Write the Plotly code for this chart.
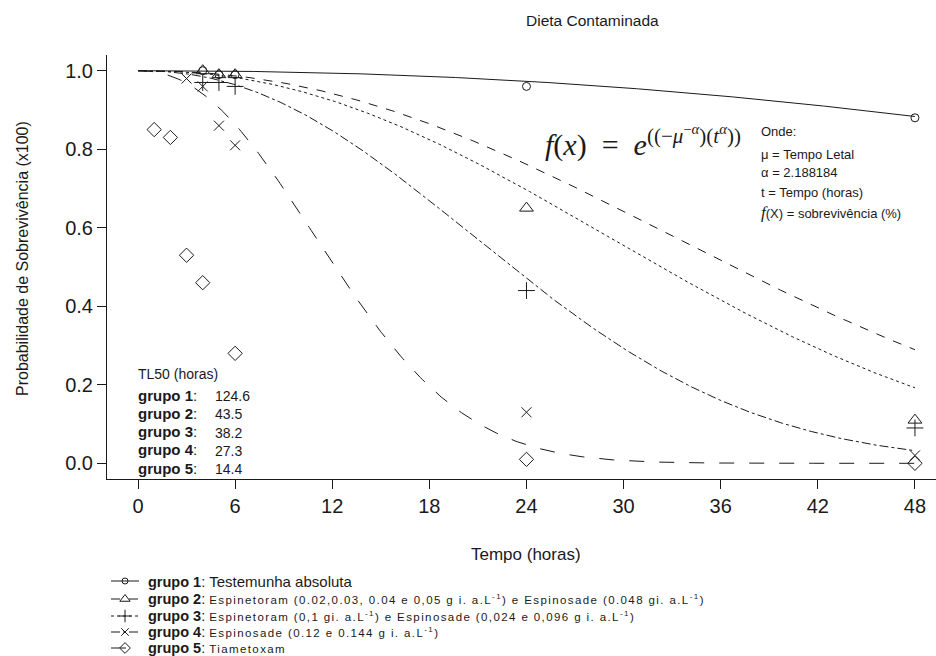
import numpy as np
import plotly.graph_objects as go

# Observed survival (fraction) per group and time (hours)
t_g1 = [4, 5, 6, 24, 48]
s_g1 = [1.0, 0.99, 0.99, 0.96, 0.88]
t_g2 = [4, 5, 6, 24, 48]
s_g2 = [1.0, 0.99, 0.99, 0.65, 0.11]
t_g3 = [4, 5, 6, 24, 48]
s_g3 = [0.97, 0.97, 0.96, 0.44, 0.09]
t_g4 = [3, 4, 5, 6, 24, 48]
s_g4 = [0.98, 0.96, 0.86, 0.81, 0.13, 0.02]
t_g5 = [1, 2, 3, 4, 6, 24, 48]
s_g5 = [0.85, 0.83, 0.53, 0.46, 0.28, 0.01, 0.0]

# Weibull fit: lethal time per group and shared shape
tl50 = [124.6, 43.5, 38.2, 27.3, 14.4]
alpha = 2.188184

x_ticks = [0, 6, 12, 18, 24, 30, 36, 42, 48]
y_ticks = [0.0, 0.2, 0.4, 0.6, 0.8, 1.0]

group_names = ["grupo 1", "grupo 2", "grupo 3", "grupo 4", "grupo 5"]
group_desc = [
    "Testemunha absoluta",
    "Espinetoram (0.02,0.03, 0.04 e 0,05 g i. a.L<sup>-1</sup>) e Espinosade (0.048 gi. a.L<sup>-1</sup>)",
    "Espinetoram (0,1 gi. a.L<sup>-1</sup>) e Espinosade (0,024 e 0,096 g i. a.L<sup>-1</sup>)",
    "Espinosade (0.12 e 0.144 g i. a.L<sup>-1</sup>)",
    "Tiametoxam",
]

W, H = 936, 656
FONT = "Liberation Sans, Arial, sans-serif"
INK = "#1a1a1a"

times = [t_g1, t_g2, t_g3, t_g4, t_g5]
survs = [s_g1, s_g2, s_g3, s_g4, s_g5]
dashes = ["solid", "dash", "dot", "dashdot", "longdash"]
symbols = ["circle-open", "triangle-up-open", "cross-thin-open", "x-thin-open", "diamond-open"]
msizes = [8, 12, 12, 10, 11]


def px(x):
    return x / W


def py(y):
    return 1 - y / H


fig = go.Figure()

t_curve = np.linspace(0, 48, 400)
for mu, dash in zip(tl50, dashes):
    fig.add_trace(go.Scatter(
        x=t_curve, y=np.exp(-(t_curve / mu) ** alpha), mode="lines",
        line=dict(color=INK, width=1, dash=dash), hoverinfo="skip", showlegend=False,
    ))

for t, s, sym, ms in zip(times, survs, symbols, msizes):
    fig.add_trace(go.Scatter(
        x=t, y=s, mode="markers", cliponaxis=False, showlegend=False,
        marker=dict(symbol=sym, size=ms, color=INK, line=dict(color=INK, width=1)),
    ))

# Key below the plot, drawn on its own pixel-scaled axes
row_y = [581, 599, 616, 632, 648]
for yy, dash, sym, ms in zip(row_y, dashes, symbols, msizes):
    fig.add_trace(go.Scatter(
        x=[111, 139], y=[yy, yy], mode="lines", xaxis="x2", yaxis="y2",
        line=dict(color=INK, width=1, dash=dash), showlegend=False, hoverinfo="skip",
    ))
    fig.add_trace(go.Scatter(
        x=[125], y=[yy], mode="markers", xaxis="x2", yaxis="y2", cliponaxis=False,
        marker=dict(symbol=sym, size=ms * 0.75, color=INK, line=dict(color=INK, width=1)),
        showlegend=False, hoverinfo="skip",
    ))

annotations = []
for i, (yy, name, desc) in enumerate(zip(row_y, group_names, group_desc)):
    if i == 0:
        style = "font-size:15px"
    else:
        style = "font-size:11.5px;letter-spacing:1.4px"
    annotations.append(dict(
        x=px(146), y=py(yy), xref="paper", yref="paper", xanchor="left", yanchor="middle",
        text=f"<b>{name}</b>: <span style='{style}'>{desc}</span>",
        showarrow=False, font=dict(family=FONT, size=14.5, color=INK),
    ))

# TL50 block
annotations.append(dict(
    x=px(136), y=py(374), xref="paper", yref="paper", xanchor="left", yanchor="middle",
    text="TL50 (horas)", showarrow=False, font=dict(family=FONT, size=14, color=INK)))
for i, (name, val) in enumerate(zip(group_names, tl50)):
    yy = 395 + i * 18.3
    annotations.append(dict(
        x=px(136), y=py(yy), xref="paper", yref="paper", xanchor="left", yanchor="middle",
        text=f"<b>{name}</b>:", showarrow=False, font=dict(family=FONT, size=15, color=INK)))
    annotations.append(dict(
        x=px(213), y=py(yy + 1), xref="paper", yref="paper", xanchor="left", yanchor="middle",
        text=f"{val}", showarrow=False, font=dict(family=FONT, size=14, color=INK)))

# Model equation and notes
annotations.append(dict(
    x=px(543), y=py(141), xref="paper", yref="paper", xanchor="left", yanchor="middle",
    text="<i>f</i>(<i>x</i>)  =  <i>e</i><sup>((−<i>μ</i><sup>−<i>α</i></sup>)(<i>t</i><sup><i>α</i></sup>))</sup>",
    showarrow=False, font=dict(family="Liberation Serif, DejaVu Serif, serif", size=30, color=INK)))
notes = [
    ("Onde:", 131),
    ("μ = Tempo Letal", 154),
    (f"α = {alpha}", 173),
    ("t = Tempo (horas)", 192),
    ("<span style='font-family:Liberation Serif;font-style:italic;font-size:17px'>f</span>(X) = sobrevivência (%)", 212),
]
for txt, yy in notes:
    annotations.append(dict(
        x=px(759), y=py(yy), xref="paper", yref="paper", xanchor="left", yanchor="middle",
        text=txt, showarrow=False, font=dict(family=FONT, size=13, color=INK)))

annotations.append(dict(
    x=px(592), y=py(21), xref="paper", yref="paper", xanchor="center", yanchor="middle",
    text="Dieta Contaminada", showarrow=False, font=dict(family=FONT, size=15.5, color=INK)))
annotations.append(dict(
    x=px(526), y=py(554), xref="paper", yref="paper", xanchor="center", yanchor="middle",
    text="Tempo (horas)", showarrow=False, font=dict(family=FONT, size=17, color=INK)))
annotations.append(dict(
    x=px(22), y=py(259), xref="paper", yref="paper", xanchor="center", yanchor="middle",
    text="Probabilidade de Sobrevivência (x100)", textangle=-90, showarrow=False,
    font=dict(family=FONT, size=16, color=INK)))

# Plot region in pixels: x 107..936, y 55..479
fig.update_layout(
    width=W, height=H, autosize=False,
    margin=dict(l=0, r=0, t=0, b=0),
    paper_bgcolor="white", plot_bgcolor="rgba(0,0,0,0)",
    showlegend=False,
    annotations=annotations,
    xaxis=dict(
        domain=[107 / W, 1.0], range=[-1.915, 49.30], tickvals=x_ticks,
        showline=True, linecolor=INK, linewidth=1, showgrid=False, zeroline=False,
        ticks="outside", ticklen=9, tickcolor=INK, tickwidth=1,
        tickfont=dict(family=FONT, size=20, color=INK),
    ),
    yaxis=dict(
        domain=[(H - 479) / H, (H - 55) / H], range=[-0.04, 1.04], tickvals=y_ticks,
        tickformat=".1f",
        showline=True, linecolor=INK, linewidth=1, showgrid=False, zeroline=False,
        ticks="outside", ticklen=9, tickcolor=INK, tickwidth=1,
        tickfont=dict(family=FONT, size=20, color=INK),
    ),
    xaxis2=dict(domain=[0, 1], range=[0, W], visible=False, anchor="y2"),
    yaxis2=dict(domain=[0, (H - 525) / H], range=[H, 525], visible=False, anchor="x2"),
)

fig.write_html("out.html")
